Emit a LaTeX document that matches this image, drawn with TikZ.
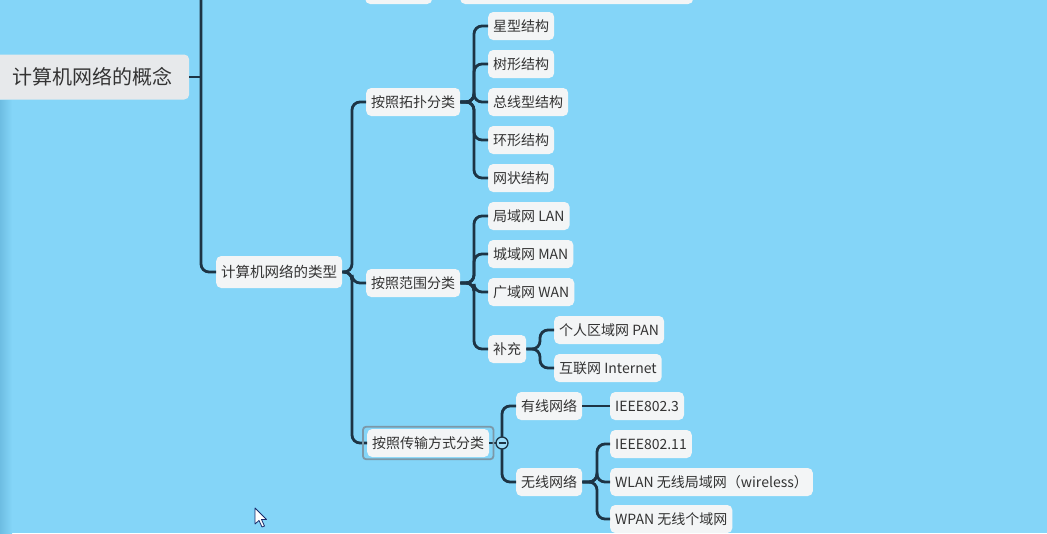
\documentclass[tikz,border=0pt]{standalone}
\usepackage{fontspec}
\setmainfont{Noto Sans CJK SC}
\definecolor{bg}{HTML}{84D5F8}
\definecolor{bgdark}{HTML}{6DBDE2}
\definecolor{boxfill}{HTML}{F3F5F6}
\definecolor{rootfill}{HTML}{E7E9EB}
\definecolor{linec}{HTML}{1D3445}
\definecolor{txt}{HTML}{333333}
\definecolor{selc}{HTML}{7C98A8}
\begin{document}
\begin{tikzpicture}[x=1pt,y=-1pt,
  box/.style={fill=boxfill, rounded corners=5pt, text=txt, font=\fontsize{14}{16}\selectfont,
    minimum height=28pt, inner xsep=5pt, inner ysep=0pt, anchor=west},
  conn/.style={draw=linec, line width=2.8pt, rounded corners=8pt},
]
\useasboundingbox (0,0) rectangle (1047,533);
\clip (0,0) rectangle (1047,533);
\fill[bg] (0,0) rectangle (1047,533);
\shade[left color=bgdark, right color=bg] (0,100) rectangle (12,533);

% nodes
\node[box, fill=rootfill, font=\fontsize{20}{22}\selectfont, minimum height=45pt, inner xsep=17pt] (root) at (-5,77) {计算机网络的概念};
\coordinate (topend) at (201,-20);
\node[box, minimum width=67pt] (hidA) at (365,-10) {};
\node[box, minimum width=233pt] (hidB) at (460,-10) {};

\node[box, font=\fontsize{14.5}{17}\selectfont, minimum height=32pt] (types) at (216,272) {计算机网络的类型};

\node[box] (topo) at (366,102) {按照拓扑分类};
\node[box] (range) at (366,283) {按照范围分类};
\node[box] (trans) at (367,443) {按照传输方式分类};

\node[box] (t1) at (488,26) {星型结构};
\node[box] (t2) at (488,64) {树形结构};
\node[box] (t3) at (488,102) {总线型结构};
\node[box] (t4) at (488,140) {环形结构};
\node[box] (t5) at (488,178) {网状结构};

\node[box] (r1) at (488,216) {局域网 LAN};
\node[box] (r2) at (488,254) {城域网 MAN};
\node[box] (r3) at (488,292) {广域网 WAN};
\node[box] (r4) at (488,349) {补充};
\node[box] (s1) at (554,330) {个人区域网 PAN};
\node[box] (s2) at (554,368) {互联网 Internet};

\node[box] (wired) at (516,406) {有线网络};
\node[box] (wless) at (516,482) {无线网络};
\node[box] (w0) at (610,406) {IEEE802.3};
\node[box] (w1) at (610,444) {IEEE802.11};
\node[box] (w2) at (610,482) {WLAN 无线局域网（wireless）};
\node[box] (w3) at (610,519) {WPAN 无线个域网};

% connectors
\draw[conn] (root.east) -- (topend |- root.east);
\draw[conn] (topend) |- (types.west);
\foreach \c in {topo,range,trans} \draw[conn] (types.east) -- (352,272) |- (\c.west);
\foreach \c in {t1,t2,t3,t4,t5} \draw[conn] (topo.east) -- (474,102) |- (\c.west);
\foreach \c in {r1,r2,r3,r4} \draw[conn] (range.east) -- (474,283) |- (\c.west);
\foreach \c in {s1,s2} \draw[conn] (r4.east) -- (540,349) |- (\c.west);
\coordinate (coll) at (502,443);
\draw[conn] (trans.east) -- (coll);
\foreach \c in {wired,wless} \draw[conn] (coll) |- (\c.west);
\draw[conn] (wired.east) -- (w0.west);
\foreach \c in {w1,w2,w3} \draw[conn] (wless.east) -- (597,482) |- (\c.west);

% selection frame and collapse button
\draw[selc, line width=1.8pt, rounded corners=3pt] ([shift={(-4,-2)}]trans.north west) rectangle ([shift={(4,2)}]trans.south east);
\node[circle, draw=linec, line width=1.3pt, fill=bg!80!white, minimum size=12pt, inner sep=0pt] (collbtn) at (coll) {};
\draw[linec, line width=1.3pt] ([xshift=-3.5pt]collbtn.center) -- ([xshift=3.5pt]collbtn.center);

% mouse pointer
\draw[fill=white, draw=linec!80!blue, line width=0.8pt, line join=round]
  (255,508) -- (255,524) -- (259,520.5) -- (262,527) -- (264.5,526) -- (261.5,519.5) -- (266.5,519.5) -- cycle;
\end{tikzpicture}
\end{document}
